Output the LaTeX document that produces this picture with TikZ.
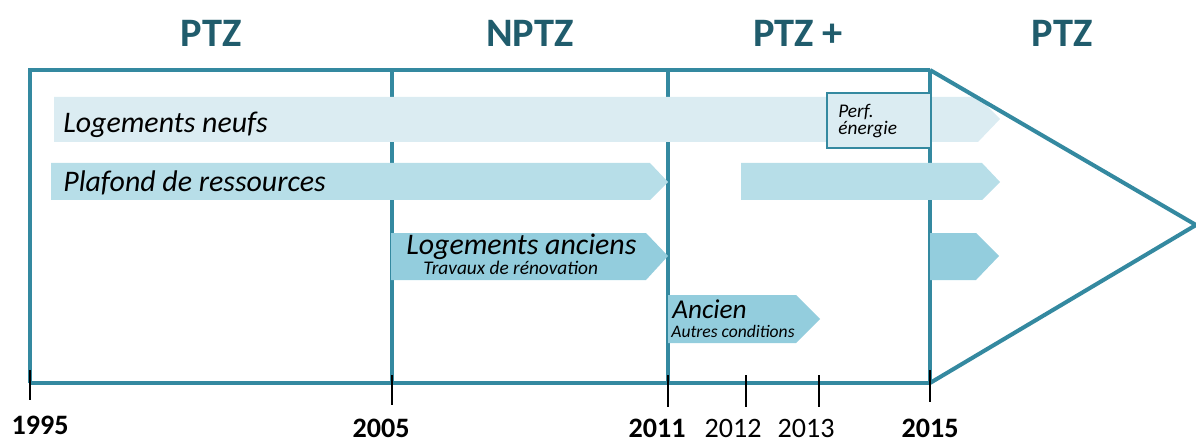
\documentclass[tikz,border=0pt]{standalone}
\usepackage{fontspec}
\setmainfont{Carlito}
\definecolor{framecol}{RGB}{52,137,160}
\definecolor{titlecol}{RGB}{32,92,108}
\definecolor{barlight}{RGB}{219,236,242}
\definecolor{barmid}{RGB}{183,222,232}
\definecolor{bardark}{RGB}{147,205,221}
\begin{document}
\begin{tikzpicture}[x=0.02cm, y=-0.02cm,
    frame/.style={draw=framecol, line width=2.3pt, line join=miter},
    tickline/.style={draw=black, line width=1pt},
    period/.style={anchor=base, text=titlecol, font=\bfseries\fontsize{23}{23}\selectfont},
    year/.style={anchor=base, font=\fontsize{16}{16}\selectfont},
    bigyear/.style={year, font=\bfseries\fontsize{16}{16}\selectfont},
    bartext/.style={anchor=base west, inner sep=0pt, font=\itshape\fontsize{17}{17}\selectfont},
    subtext/.style={anchor=base west, inner sep=0pt, font=\itshape\fontsize{11}{11}\selectfont}]
        \useasboundingbox (0,0) rectangle (1196,442);

        % --- Draw periods ---
        \node[period] (ptzA) at (211,47) {PTZ};
        \node[period] (nptz) at (530,47) {NPTZ};
        \node[period] (ptzplus) at (798,47) {PTZ +};
        \node[period] (ptzB) at (1062,47) {PTZ};
        % ---

        % --- Draw frame and period separators ---
        \draw[frame] (30,383) -- (30,70) -- (930,70);
        \draw[frame] (30,383) -- (930,383);
        \draw[frame] (392,70) -- (392,383);
        \draw[frame] (668,70) -- (668,383);
        \draw[frame] (930,70) -- (930,383);
        % ---

        % --- Draw bars ---
        \fill[barlight] (54,97) -- (978,97) -- (1000,119) -- (978,142) -- (54,142) -- cycle;
        \fill[barmid] (51,163) -- (650,163) -- (668,182) -- (650,200) -- (51,200) -- cycle;
        \fill[barmid] (741,163) -- (982,163) -- (1000,182) -- (982,200) -- (741,200) -- cycle;
        \fill[bardark] (391,233) -- (646,233) -- (668,256) -- (646,280) -- (391,280) -- cycle;
        \fill[bardark] (930,233) -- (976,233) -- (999,256) -- (976,280) -- (930,280) -- cycle;
        \fill[bardark] (668,295) -- (796,295) -- (820,319) -- (796,343) -- (668,343) -- cycle;
        \draw[draw=framecol, line width=0.6pt, fill=barlight] (827,93) rectangle (931,148);
        % ---

        % --- Draw bar labels ---
        \node[bartext] (neufs) at (63,133) {Logements neufs};
        \node[bartext] (plafond) at (63,192) {Plafond de ressources};
        \node[bartext] (anciens) at (406,255) {Logements anciens};
        \node[subtext] (travaux) at (423,275) {Travaux de rénovation};
        \node[bartext, font=\itshape\fontsize{15.5}{15.5}\selectfont] (ancien) at (672,318) {Ancien};
        \node[subtext, font=\itshape\fontsize{10}{10}\selectfont] (autres) at (671,337) {Autres conditions};
        \node[subtext] (perf) at (838,118) {Perf.};
        \node[subtext] (energie) at (838,135) {énergie};
        % ---

        % --- Draw open end of the last period ---
        \draw[frame] (930,70) -- (1196,225) -- (930,383);
        % ---

        % --- Draw ticks and years ---
        \draw[tickline] (30,370) -- (30,400);
        \draw[tickline] (392,375) -- (392,405);
        \draw[tickline] (668,375) -- (668,407);
        \draw[tickline] (746,375) -- (746,407);
        \draw[tickline] (819,375) -- (819,407);
        \draw[tickline] (930,370) -- (930,402);
        \node[bigyear] (y1995) at (40,434) {1995};
        \node[bigyear] (y2005) at (381,437) {2005};
        \node[bigyear] (y2011) at (657,437) {2011};
        \node[year] (y2012) at (733,437) {2012};
        \node[year] (y2013) at (806,437) {2013};
        \node[bigyear] (y2015) at (930,437) {2015};
        % ---
\end{tikzpicture}
\end{document}
